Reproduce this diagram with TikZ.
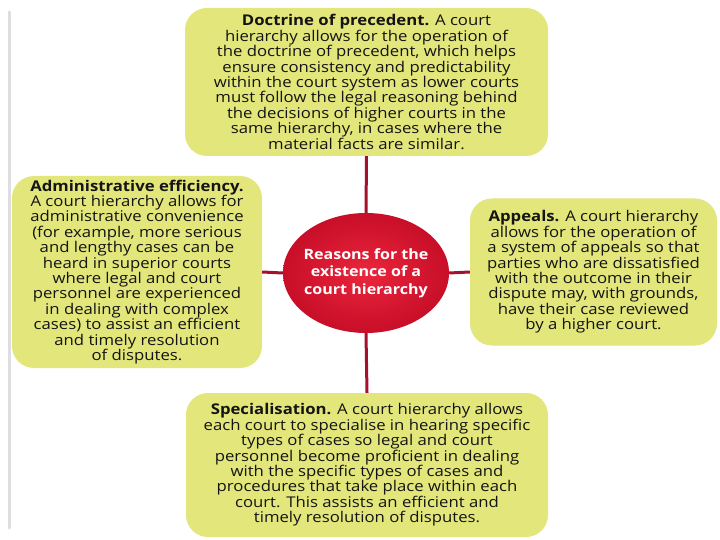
\documentclass[tikz,border=0pt]{standalone}
\usepackage{fontspec}
\setmainfont{Open Sans}[FakeStretch=1.13]
\usetikzlibrary{shapes.geometric}
\definecolor{boxfill}{RGB}{227,230,122}
\definecolor{linered}{RGB}{165,16,45}
\definecolor{circout}{RGB}{200,14,40}
\definecolor{circin}{RGB}{234,38,60}
\definecolor{barg}{RGB}{222,222,224}
\tikzset{
  infobox/.style={draw=none, fill=boxfill, rounded corners=22pt, align=center,
    inner sep=0pt, font=\fontsize{14.8}{15.4}\selectfont, text=black!92},
  conn/.style={draw=linered, line width=3pt},
  hub/.style={ellipse, draw=none, shading=radial, inner color=circin, outer color=circout,
    minimum width=166pt, minimum height=120pt, align=center, text=white,
    font=\bfseries\fontsize{14.2}{17.5}\selectfont, inner xsep=-12pt, inner ysep=0pt}
}
\begin{document}
\begin{tikzpicture}[x=1pt,y=-1pt]
\useasboundingbox (0,0) rectangle (720,540);
\fill[white] (0,0) rectangle (720,540);
\draw[barg, line width=3pt, line cap=round] (9,12) -- (9,528);
\node[infobox, minimum width=363pt, minimum height=148pt] (top) at (366.5,82)
{\textbf{Doctrine of precedent.} A court\\
hierarchy allows for the operation of\\
the doctrine of precedent, which helps\\
ensure consistency and predictability\\
within the court system as lower courts\\
must follow the legal reasoning behind\\
the decisions of higher courts in the\\
same hierarchy, in cases where the\\
material facts are similar.};
\node[infobox, minimum width=250pt, minimum height=192pt] (left) at (137,272)
{\textbf{Administrative efficiency.}\\
A court hierarchy allows for\\
administrative convenience\\
(for example, more serious\\
and lengthy cases can be\\
heard in superior courts\\
where legal and court\\
personnel are experienced\\
in dealing with complex\\
cases) to assist an efficient\\
and timely resolution\\
of disputes.};
\node[infobox, minimum width=247pt, minimum height=147pt] (right) at (593.5,272)
{\textbf{Appeals.} A court hierarchy\\
allows for the operation of\\
a system of appeals so that\\
parties who are dissatisfied\\
with the outcome in their\\
dispute may, with grounds,\\
have their case reviewed\\
by a higher court.};
\node[infobox, minimum width=362pt, minimum height=144pt] (bottom) at (367,465)
{\textbf{Specialisation.} A court hierarchy allows\\
each court to specialise in hearing specific\\
types of cases so legal and court\\
personnel become proficient in dealing\\
with the specific types of cases and\\
procedures that take place within each\\
court. This assists an efficient and\\
timely resolution of disputes.};
\node[hub] (hub) at (366,273) {Reasons for the\\existence of a\\court hierarchy};
\draw[conn] (top.south) -- (hub.north);
\draw[conn] (hub.south) -- (bottom.north);
\draw[conn] (left.east) -- (hub.west);
\draw[conn] (hub.east) -- (right.west);
\end{tikzpicture}
\end{document}
